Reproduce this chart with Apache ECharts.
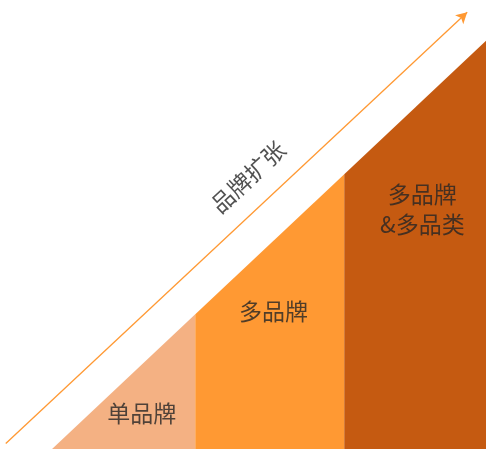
<!DOCTYPE html>
<html>
<head>
<meta charset="utf-8">
<script src="https://cdn.jsdelivr.net/npm/echarts@6/dist/echarts.min.js"></script>
<style>
  html, body { margin: 0; padding: 0; background: #fff; }
  #chart { width: 486px; height: 449px; }
</style>
</head>
<body>
<div id="chart"></div>
<script>
// Stages of brand expansion, placed along the x axis
const stageNames = ['单品牌', '多品牌', '多品牌\n&多品类'];
const stageEdges = [0, 0.99, 2.02, 3];
const stageHeights = [0, 0.99, 2.02, 3];
const trendTitle = '品牌扩张';

// Styling and layout
const stageColors = ['#F4B183', '#FF9933', '#C55A11'];
const arrowColor = '#FF9933';
const textColor = '#262626';
const labelAnchors = [[0.62, 0.26], [1.53, 1.01], [2.56, 1.76]];
const arrowFrom = [-0.32, 0.04];
const arrowTo = [2.87, 3.21];
const trendAnchor = [1.355, 2.0];
const fontFamily = '"Noto Sans CJK SC", "Noto Sans", sans-serif';

const chart = echarts.init(document.getElementById('chart'), null, { renderer: 'canvas' });

const stageSeries = stageNames.map((name, i) => ({
  type: 'line',
  name: name,
  silent: true,
  symbol: 'none',
  lineStyle: { width: 0 },
  areaStyle: { color: stageColors[i], opacity: 1 },
  data: [
    [stageEdges[i], stageHeights[i]],
    [stageEdges[i + 1], stageHeights[i + 1]]
  ],
  z: 1
}));

const option = {
  animation: false,
  backgroundColor: '#ffffff',
  grid: { left: 0, right: 0, top: 0, bottom: 0 },
  xAxis: { type: 'value', min: -0.36, max: 3, show: false },
  yAxis: { type: 'value', min: 0, max: 3.3, show: false },
  series: [
    ...stageSeries,
    {
      type: 'scatter',
      silent: true,
      symbolSize: 0,
      z: 5,
      data: stageNames.map((name, i) => ({ value: labelAnchors[i], name: name })),
      label: {
        show: true,
        position: 'inside',
        formatter: p => p.name,
        fontFamily: fontFamily,
        fontSize: 23,
        lineHeight: 30,
        color: textColor,
        align: 'center',
        verticalAlign: 'middle'
      }
    },
    {
      type: 'scatter',
      silent: true,
      symbolSize: 0,
      z: 5,
      data: [{ value: trendAnchor, name: trendTitle }],
      label: {
        show: true,
        position: 'inside',
        rotate: 43,
        formatter: p => p.name,
        fontFamily: fontFamily,
        fontSize: 23,
        color: textColor,
        align: 'center',
        verticalAlign: 'middle'
      },
      markLine: {
        silent: true,
        symbol: ['none', 'arrow'],
        symbolSize: [9, 11],
        label: { show: false },
        lineStyle: { color: arrowColor, width: 1.3, type: 'solid' },
        data: [[{ coord: arrowFrom }, { coord: arrowTo }]]
      }
    }
  ]
};

chart.setOption(option);
</script>
</body>
</html>
